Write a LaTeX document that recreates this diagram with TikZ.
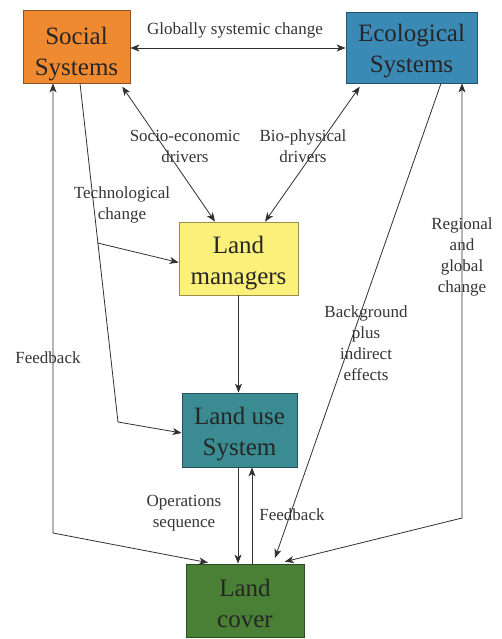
\documentclass[tikz,border=0pt]{standalone}
\usepackage{fontspec}
\setmainfont{Liberation Serif}
\usetikzlibrary{arrows.meta,calc}
\definecolor{socfill}{HTML}{F08A30}
\definecolor{ecofill}{HTML}{3A8AB5}
\definecolor{lmfill}{HTML}{FAF07A}
\definecolor{lufill}{HTML}{3A8C92}
\definecolor{lcfill}{HTML}{4A8035}
\definecolor{linecol}{HTML}{303030}
\definecolor{labcol}{HTML}{353535}
\tikzset{
  box/.style={draw=#1!60!black, fill=#1, line width=0.8pt, inner sep=0pt},
  boxtext/.style={align=center, inner sep=0pt, font=\fontsize{25}{31}\selectfont, text=black!85},
  lab/.style={align=center, font=\fontsize{17}{21}\selectfont, text=labcol, inner sep=0pt},
  conn/.style={draw=linecol, line width=0.8pt},
  tip/.style={-{Stealth[length=9pt,width=7pt,inset=2.5pt]}},
  dtip/.style={{Stealth[length=9pt,width=7pt,inset=2.5pt]}-{Stealth[length=9pt,width=7pt,inset=2.5pt]}},
}
\begin{document}
\begin{tikzpicture}[x=1pt,y=-1pt]
\useasboundingbox (0,0) rectangle (502,639);
\fill[white] (0,0) rectangle (502,639);

\node[box=socfill, minimum width=107pt, minimum height=73pt] (soc) at (76.5,46.5) {};
\node[box=ecofill, minimum width=131pt, minimum height=71pt] (eco) at (411.5,47.5) {};
\node[box=lmfill, minimum width=119pt, minimum height=73pt] (lm) at (238.5,258.5) {};
\node[box=lufill, minimum width=115pt, minimum height=74pt] (lu) at (239.5,430) {};
\node[box=lcfill, minimum width=118pt, minimum height=73pt] (lc) at (245,600.5) {};

\node[boxtext] (soct) at ([yshift=-8pt]soc.center) {Social\\Systems};
\node[boxtext] (ecot) at ([yshift=-4pt]eco.center) {Ecological\\Systems};
\node[boxtext] (lmt) at ([yshift=-5pt]lm.center) {Land\\managers};
\node[boxtext] (lut) at ([yshift=-4pt]lu.center) {Land use\\System};
\node[boxtext] (lct) at ([yshift=-3pt]lc.center) {Land\\cover};

% corner coordinates
\coordinate (sbend) at (118,422);
\coordinate (tcstart) at (97.6,243);
\coordinate (lbend) at (53,533);
\coordinate (rbend) at (462,518);

% Globally systemic change
\draw[conn,dtip] ([yshift=-1.5pt]soc.east) -- ([yshift=-0.5pt]eco.west);
% socio-economic
\draw[conn,dtip,shorten <=4pt] ([xshift=43.5pt]soc.south) -- ([xshift=-23.5pt]lm.north);
% bio-physical
\draw[conn,dtip,shorten <=4pt] ([xshift=-49.5pt]eco.south) -- ([xshift=26.5pt]lm.north);
% social -> land use
\draw[conn,tip] ([xshift=3.5pt]soc.south) -- (sbend) -- ([yshift=-3pt]lu.west);
% technological change
\draw[conn,tip] (tcstart) -- ([yshift=-4pt]lm.west);
% land managers -> land use
\draw[conn,tip] (lm.south) -- (lm.south |- lu.north);
% operations sequence
\draw[conn,tip] ([xshift=-1.5pt]lu.south) -- ([xshift=-1.5pt]lu.south |- lc.north);
% feedback up
\draw[conn,tip] ([xshift=12.5pt]lu.south |- lc.north) -- ([xshift=12.5pt]lu.south);
% left feedback
\draw[conn,dtip,shorten <=5pt] ([xshift=-32pt]lc.north) -- (lbend) -- ([xshift=-23.5pt]soc.south);
% eco -> land cover
\draw[conn,tip,shorten >=6pt] ([xshift=29.5pt]eco.south) -- ([xshift=28pt]lc.north);
% regional and global change
\draw[conn,dtip,shorten <=8pt] ([xshift=32pt]lc.north) -- (rbend) -- ([xshift=50.5pt]eco.south);

% labels
\node[lab] (l1) at (235,30) {Globally systemic change};
\node[lab] (l2) at (185,146) {Socio-economic\\drivers};
\node[lab] (l3) at (303,146) {Bio-physical\\drivers};
\node[lab] (l4) at (122,205) {Technological\\change};
\node[lab] (l5) at (48,358) {Feedback};
\node[lab] (l6) at (366,343) {Background\\plus\\indirect\\effects};
\node[lab] (l7) at (462,257) {Regional\\and\\global\\change};
\node[lab] (l8) at (184,513) {Operations\\sequence};
\node[lab] (l9) at (292,515) {Feedback};
\end{tikzpicture}
\end{document}
